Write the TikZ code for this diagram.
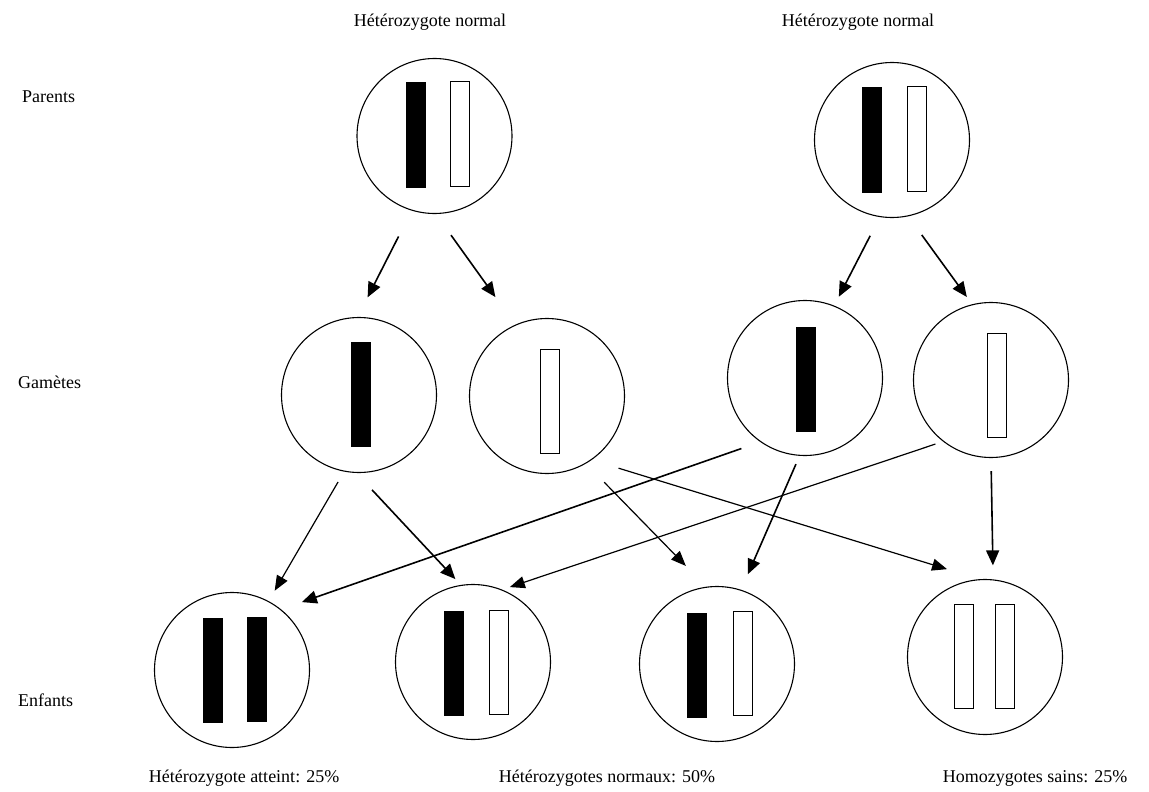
\documentclass[tikz,border=0pt]{standalone}
\usepackage{fontspec}
\setmainfont{Liberation Serif}
\usetikzlibrary{arrows.meta}
\begin{document}
\begin{tikzpicture}[x=1pt,y=1pt,yscale=-1,xscale=1,
	cell/.style={circle,draw,line width=1.1pt,minimum size=155pt,inner sep=0pt},
	chromo/.style={rectangle,draw,line width=1pt,minimum width=19pt,minimum height=104pt,inner sep=0pt},
	dark/.style={chromo,fill=black},
	light/.style={chromo,fill=white},
	arr/.style={line width=1.6pt,-{Triangle[length=15pt,width=13pt]}},
	thinarr/.style={line width=1.2pt,-{Triangle[length=15pt,width=12pt]}},
	lbl/.style={inner sep=0pt,font=\fontsize{18}{21}\selectfont}]
		\useasboundingbox (0,0) rectangle (1149,792);

		% Parents
		\node[cell] (p1) at (434.5,136) {};
		\node[dark] (p1a) at (415.5,135) {};
		\node[light] (p1b) at (460,134) {};
		\node[cell] (p2) at (892,140) {};
		\node[dark] (p2a) at (872,140) {};
		\node[light] (p2b) at (916.5,139) {};

		% Gametes
		\node[cell] (g1) at (359,395) {};
		\node[dark] (g1a) at (360.5,394) {};
		\node[cell] (g2) at (547,396) {};
		\node[light] (g2a) at (550,401) {};
		\node[cell] (g3) at (805,378) {};
		\node[dark] (g3a) at (806,379) {};
		\node[cell] (g4) at (991,380) {};
		\node[light] (g4a) at (996.5,385) {};

		% Enfants
		\node[cell] (c1) at (232,670) {};
		\node[dark] (c1a) at (213,670) {};
		\node[dark] (c1b) at (257,669) {};
		\node[cell] (c2) at (473,662) {};
		\node[dark] (c2a) at (453.5,663) {};
		\node[light] (c2b) at (498.5,662) {};
		\node[cell] (c3) at (717,664) {};
		\node[dark] (c3a) at (697,665.5) {};
		\node[light] (c3b) at (742.5,663) {};
		\node[cell] (c4) at (985,657) {};
		\node[light] (c4a) at (963.5,656) {};
		\node[light] (c4b) at (1005,656) {};

		% Parents -> gametes
		\draw[arr, shorten <=29pt, shorten >=22pt] (p1.253) -- (g1.91);
		\draw[arr, shorten <=26pt, shorten >=34pt] (p1.271) -- (g2.114);
		\draw[arr, shorten <=21pt, shorten >=10pt] (p2.261) -- (g3.68);
		\draw[arr, shorten <=23pt, shorten >=9pt] (p2.282) -- (g4.104);

		% Gametes -> enfants
		\draw[thinarr, shorten <=12pt, shorten >=12pt] (g1.259) -- (c1.62);
		\draw[arr, shorten <=23pt, shorten >=8pt] (g1.268) -- (c2.99);
		\draw[arr, shorten <=20pt, shorten >=22pt] (g3.235) -- (c1.51);
		\draw[thinarr, shorten <=8pt, shorten >=8pt] (g4.232) -- (c2.68);
		\draw[thinarr, shorten <=26pt, shorten >=29pt] (g2.300) -- (c3.98);
		\draw[arr, shorten <=9pt, shorten >=17pt] (g3.266) -- (c3.72);
		\draw[thinarr, shorten <=28pt, shorten >=34pt] (g2.305) -- (c4.94);
		\draw[arr, shorten <=13pt, shorten >=14pt] (g4.270) -- (c4.84);

		% Text Node
		\node[lbl] (t1) at (430,22) {Hétérozygote normal};
		\node[lbl] (t2) at (858,22) {Hétérozygote normal};
		\node[lbl, anchor=west] (r1) at (22,97) {Parents};
		\node[lbl, anchor=west] (r2) at (18,382) {Gamètes};
		\node[lbl, anchor=west] (r3) at (18,700) {Enfants};
		\node[lbl] (b1) at (244,778) {Hétérozygote atteint: 25\%};
		\node[lbl] (b2) at (607,778) {Hétérozygotes normaux: 50\%};
		\node[lbl] (b3) at (1035,778) {Homozygotes sains: 25\%};

\end{tikzpicture}
\end{document}
